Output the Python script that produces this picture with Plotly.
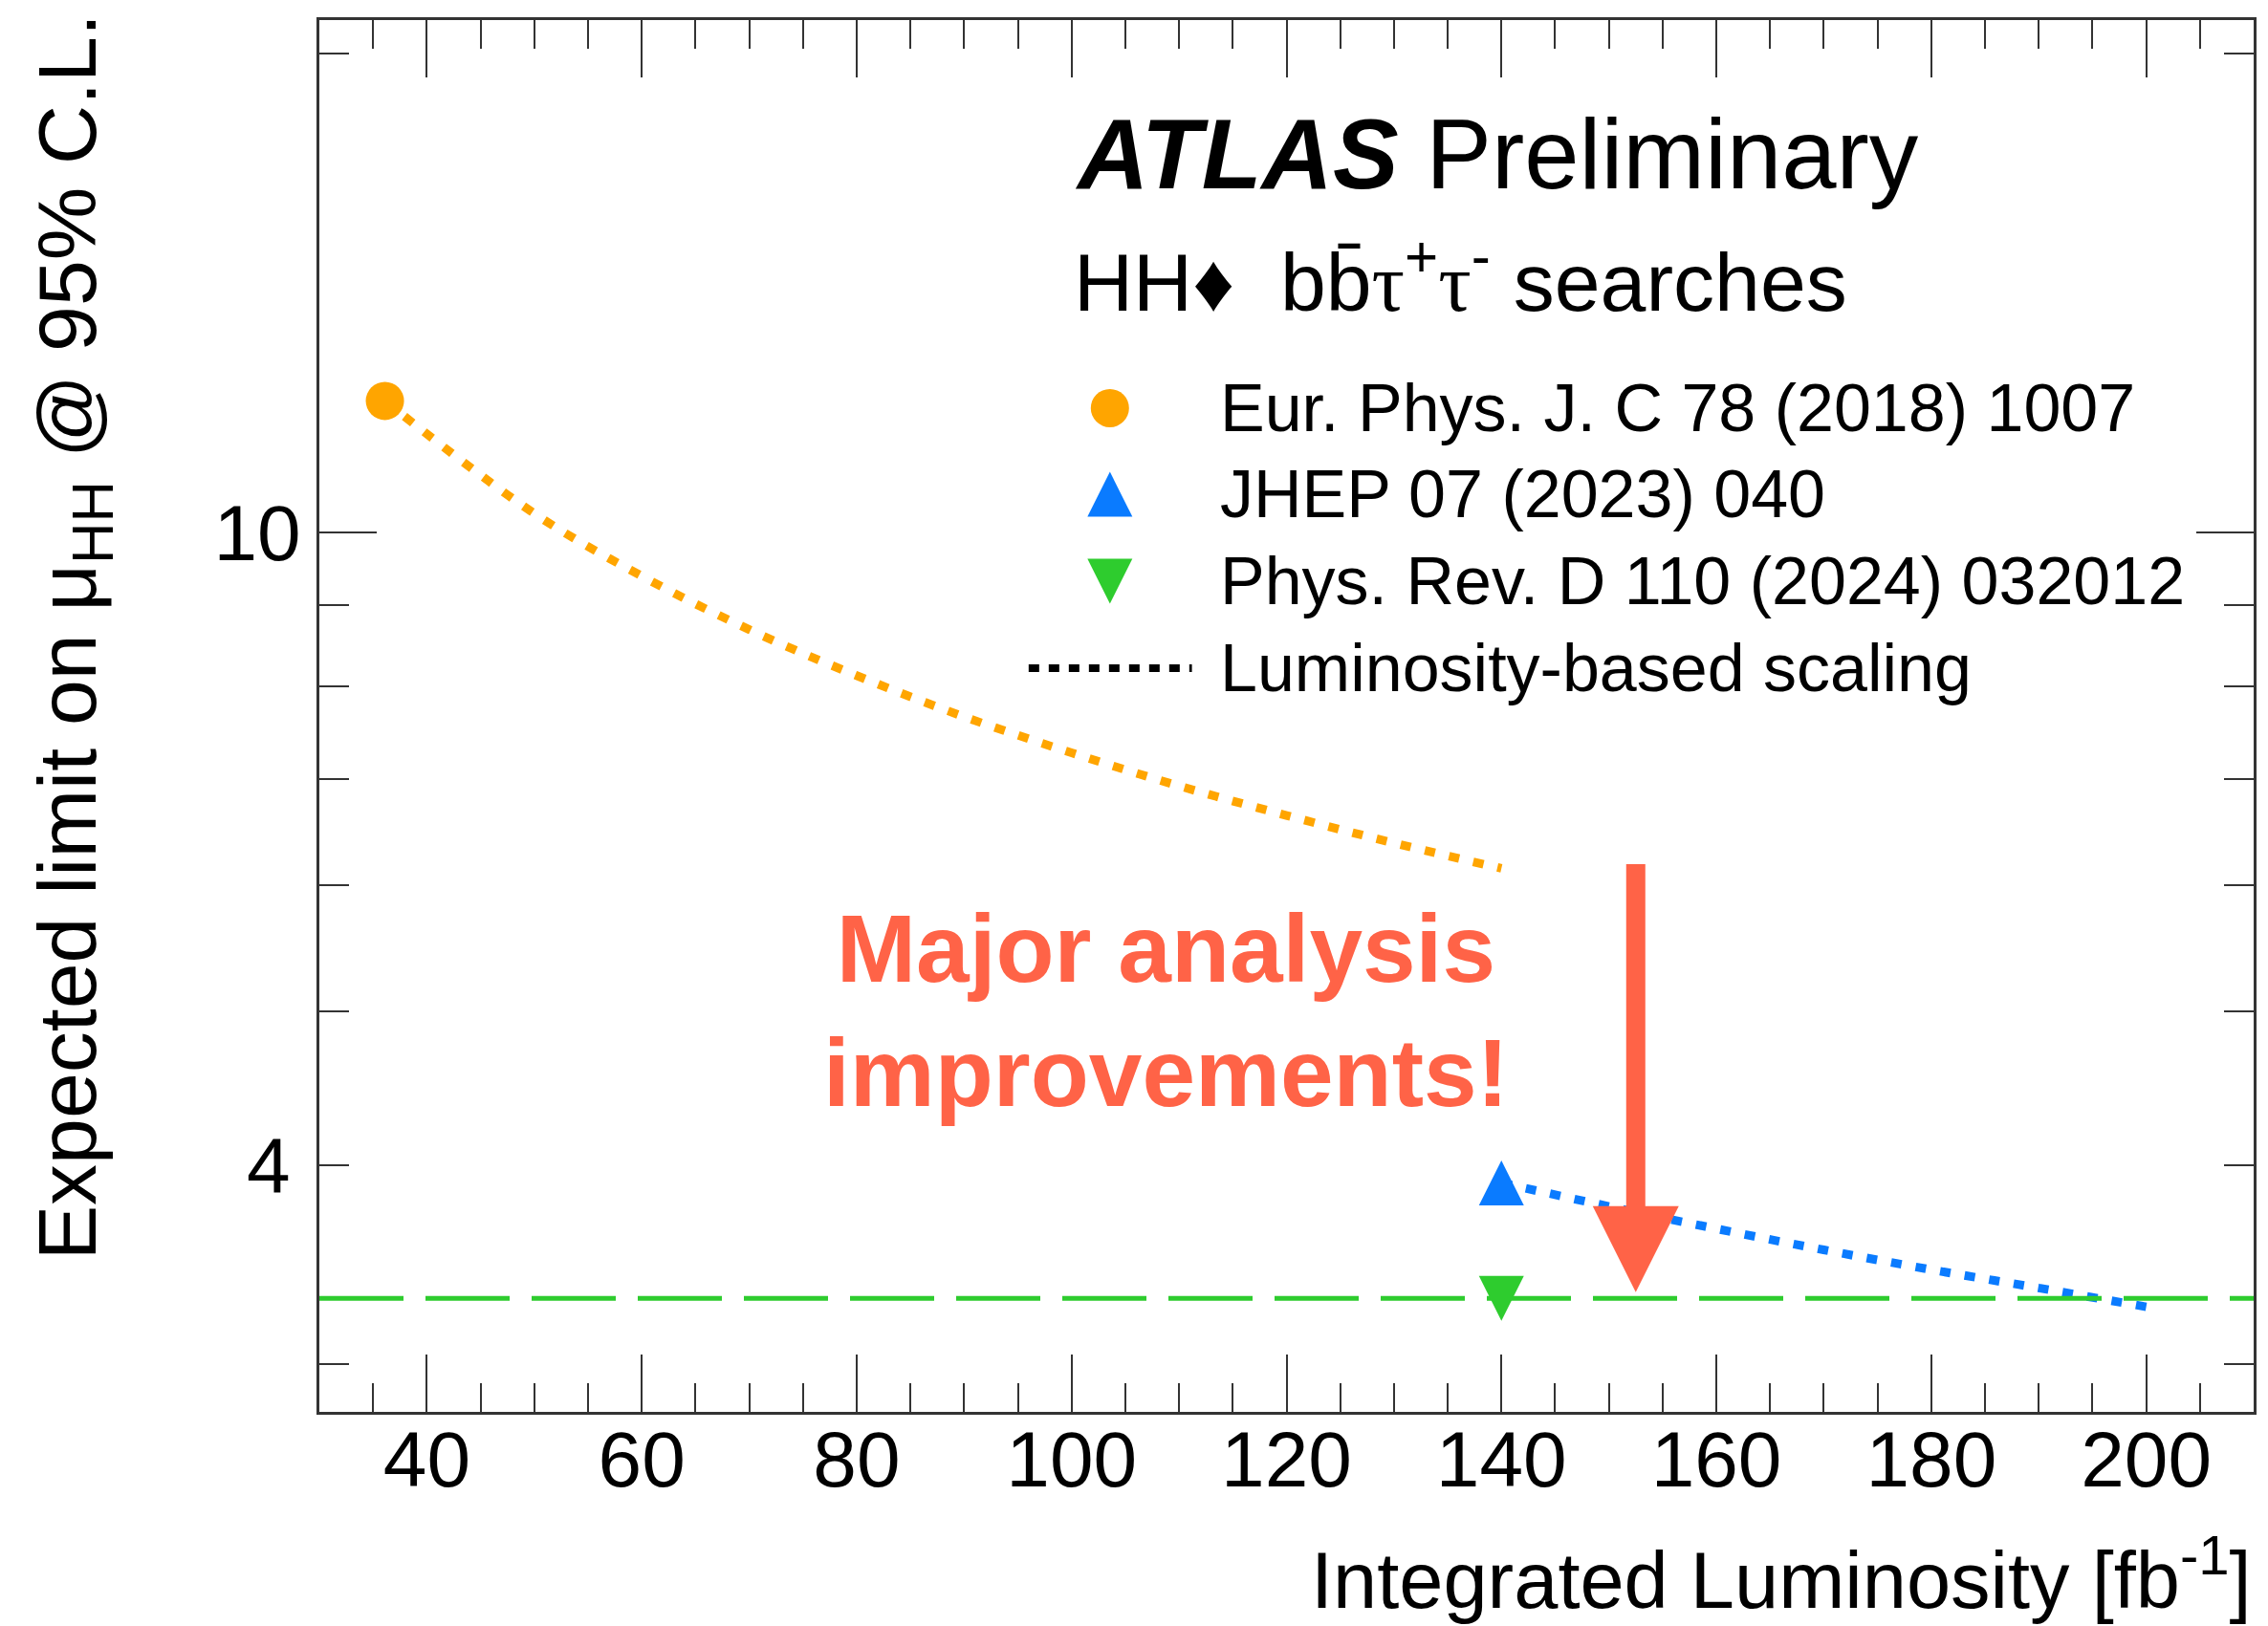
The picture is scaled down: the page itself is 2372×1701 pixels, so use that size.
import math
import plotly.graph_objects as go

# ---------------- data ----------------
lumi_epjc = [36.1]
limit_epjc = [12.1]
lumi_jhep = [140]
limit_jhep = [3.9]
lumi_prd = [140]
limit_prd = [3.3]

# luminosity-based scaling curves
scale_epjc_x = [36.1, 50, 60, 70, 80, 90, 100, 110, 120, 130, 140]
scale_epjc_y = [12.1, 10.28, 9.39, 8.69, 8.13, 7.66, 7.27, 6.93, 6.64, 6.38, 6.15]
scale_jhep_x = [140, 150, 160, 170, 180, 190, 200]
scale_jhep_y = [3.9, 3.77, 3.65, 3.54, 3.44, 3.35, 3.26]

# horizontal reference of latest result
prd_line_x = [30, 210]
prd_line_y = [3.3, 3.3]

# arrow "major analysis improvements"
arrow_lumi = 152.5
arrow_from = 6.2
arrow_to = 3.33

legend_labels = [
    "Eur. Phys. J. C 78 (2018) 1007",
    "JHEP 07 (2023) 040",
    "Phys. Rev. D 110 (2024) 032012",
    "Luminosity-based scaling",
]

x_range = [30, 210]
y_range = [2.8, 21]
y_minor_vals = [3, 4, 5, 6, 7, 8, 9, 20]

# ---------------- style ----------------
FONT = "Liberation Sans, Arial, Helvetica, sans-serif"
ORANGE = "#FFA500"
BLUE = "#0A7BFF"
GREEN = "#2ECC2E"
RED = "#FF6347"
AXC = "#333333"

W, H = 2372, 1701
L, R, T, B = 334, 12, 21, 224

TRI = 47  # triangle marker size (width = height = size)


def tri_marker(color, up=True):
    # arrow-shaped symbol gives an equilateral-looking triangle; standoff centres it
    return dict(symbol="arrow-down", angle=180 if up else 0, standoff=TRI / 2,
                size=TRI, color=color, line=dict(width=0))


fig = go.Figure()

# scaling curves
fig.add_trace(go.Scatter(x=scale_epjc_x, y=scale_epjc_y, mode="lines",
                         line=dict(color=ORANGE, width=9, dash="11px,15px", shape="spline"),
                         showlegend=False, hoverinfo="skip"))
fig.add_trace(go.Scatter(x=scale_jhep_x, y=scale_jhep_y, mode="lines",
                         line=dict(color=BLUE, width=9, dash="11px,15px", shape="spline"),
                         showlegend=False, hoverinfo="skip"))
fig.add_trace(go.Scatter(x=prd_line_x, y=prd_line_y, mode="lines",
                         line=dict(color=GREEN, width=5, dash="88px,23px"),
                         showlegend=False, hoverinfo="skip"))

# points
fig.add_trace(go.Scatter(x=lumi_epjc, y=limit_epjc, mode="markers",
                         marker=dict(symbol="circle", size=40, color=ORANGE),
                         showlegend=False))
fig.add_trace(go.Scatter(x=lumi_jhep, y=limit_jhep, mode="markers",
                         marker=tri_marker(BLUE, up=True), showlegend=False))
fig.add_trace(go.Scatter(x=lumi_prd, y=limit_prd, mode="markers",
                         marker=tri_marker(GREEN, up=False), showlegend=False))

# ---------- custom legend on an overlay axis in [0,1] x [0,1] ----------
leg_sym_x = 0.4087
leg_rows_y = [0.7212, 0.6593, 0.5968, 0.5343]
fig.add_trace(go.Scatter(x=[leg_sym_x], y=[leg_rows_y[0]], mode="markers",
                         marker=dict(symbol="circle", size=40, color=ORANGE),
                         xaxis="x2", yaxis="y2", showlegend=False, hoverinfo="skip"))
fig.add_trace(go.Scatter(x=[leg_sym_x], y=[leg_rows_y[1]], mode="markers",
                         marker=tri_marker(BLUE, up=True),
                         xaxis="x2", yaxis="y2", showlegend=False, hoverinfo="skip"))
fig.add_trace(go.Scatter(x=[leg_sym_x], y=[leg_rows_y[2]], mode="markers",
                         marker=tri_marker(GREEN, up=False),
                         xaxis="x2", yaxis="y2", showlegend=False, hoverinfo="skip"))
fig.add_trace(go.Scatter(x=[0.3667, 0.4511], y=[leg_rows_y[3]] * 2, mode="lines",
                         line=dict(color="black", width=8, dash="11px,10px"),
                         xaxis="x2", yaxis="y2", showlegend=False, hoverinfo="skip"))

annotations = []
for lab, yy in zip(legend_labels, leg_rows_y):
    annotations.append(dict(x=0.4645, y=yy, xref="paper", yref="paper", text=lab,
                            showarrow=False, xanchor="left", yanchor="middle",
                            font=dict(family=FONT, size=70, color="black")))

# ATLAS label
annotations.append(dict(x=0.3894, y=0.9032, xref="paper", yref="paper",
                        text="<b><i>ATLAS</i></b> Preliminary", showarrow=False,
                        xanchor="left", yanchor="middle",
                        font=dict(family=FONT, size=103, color="black")))
TAU = "<span style=\"font-family:'Liberation Serif', serif\">\u03c4</span>"
annotations.append(dict(x=0.389, y=0.8153, xref="paper", yref="paper",
                        text="HH\u2666  bb\u0304" + TAU + "<sup>+</sup>" + TAU + "<sup>-</sup> searches",
                        showarrow=False, xanchor="left", yanchor="middle",
                        font=dict(family=FONT, size=86, color="black")))

# improvement text
annotations.append(dict(x=0.4378, y=0.2885, xref="paper", yref="paper",
                        text="<b>Major analysis<br>improvements!</b>", showarrow=False,
                        xanchor="center", yanchor="middle", align="center",
                        font=dict(family=FONT, size=100, color=RED)))

# arrow
annotations.append(dict(x=arrow_lumi, y=math.log10(arrow_to), xref="x", yref="y",
                        ax=arrow_lumi, ay=math.log10(arrow_from), axref="x", ayref="y",
                        text="", showarrow=True, arrowhead=2, arrowsize=0.9,
                        arrowwidth=20, arrowcolor=RED, standoff=0))

# y tick label "4" (minor-length tick carrying a label)
annotations.append(dict(x=0, y=math.log10(4), xref="paper", yref="y", text="4",
                        showarrow=False, xanchor="right", yanchor="middle", xshift=-28,
                        font=dict(family=FONT, size=82, color="black")))

# axis titles
annotations.append(dict(x=1.0, y=(1477 - 1647) / 1456, xref="paper", yref="paper",
                        text="Integrated Luminosity [fb<sup>-1</sup>]", showarrow=False,
                        xanchor="right", yanchor="middle",
                        font=dict(family=FONT, size=83, color="black")))
annotations.append(dict(x=0, y=1.006, xref="paper", yref="paper", xshift=-258,
                        text="Expected limit on \u03bc<sub>HH</sub> @ 95% C.L.",
                        textangle=-90, showarrow=False, xanchor="center", yanchor="top",
                        font=dict(family=FONT, size=86, color="black")))

fig.update_layout(
    width=W, height=H,
    margin=dict(l=L, r=R, t=T, b=B, pad=0),
    paper_bgcolor="white", plot_bgcolor="white",
    showlegend=False,
    font=dict(family=FONT, size=82, color="black"),
    annotations=annotations,
    xaxis=dict(range=x_range, showgrid=False, zeroline=False,
               showline=True, linecolor=AXC, linewidth=3, mirror="ticks",
               ticks="inside", ticklen=60, tickwidth=2, tickcolor=AXC,
               tickmode="linear", tick0=0, dtick=20, ticklabelstandoff=-23,
               tickfont=dict(family=FONT, size=82, color="black"),
               minor=dict(ticks="inside", ticklen=30, tickwidth=2, tickcolor=AXC,
                          dtick=5, tick0=0, showgrid=False)),
    yaxis=dict(type="log", range=[math.log10(y_range[0]), math.log10(y_range[1])],
               showgrid=False, zeroline=False,
               showline=True, linecolor=AXC, linewidth=3, mirror="ticks",
               ticks="inside", ticklen=60, tickwidth=2, tickcolor=AXC,
               tickmode="array", tickvals=[10], ticktext=["10"],
               tickfont=dict(family=FONT, size=82, color="black"),
               minor=dict(ticks="inside", ticklen=31, tickwidth=2, tickcolor=AXC,
                          tickmode="array", tickvals=y_minor_vals, showgrid=False)),
    xaxis2=dict(domain=[0, 1], range=[0, 1], overlaying="x", anchor="y2", visible=False,
                fixedrange=True),
    yaxis2=dict(domain=[0, 1], range=[0, 1], overlaying="y", anchor="x2", visible=False,
                fixedrange=True),
)

fig.write_html("out.html", config={"displayModeBar": False},
               post_script="document.body.style.margin='0';document.body.style.overflow='hidden';")
